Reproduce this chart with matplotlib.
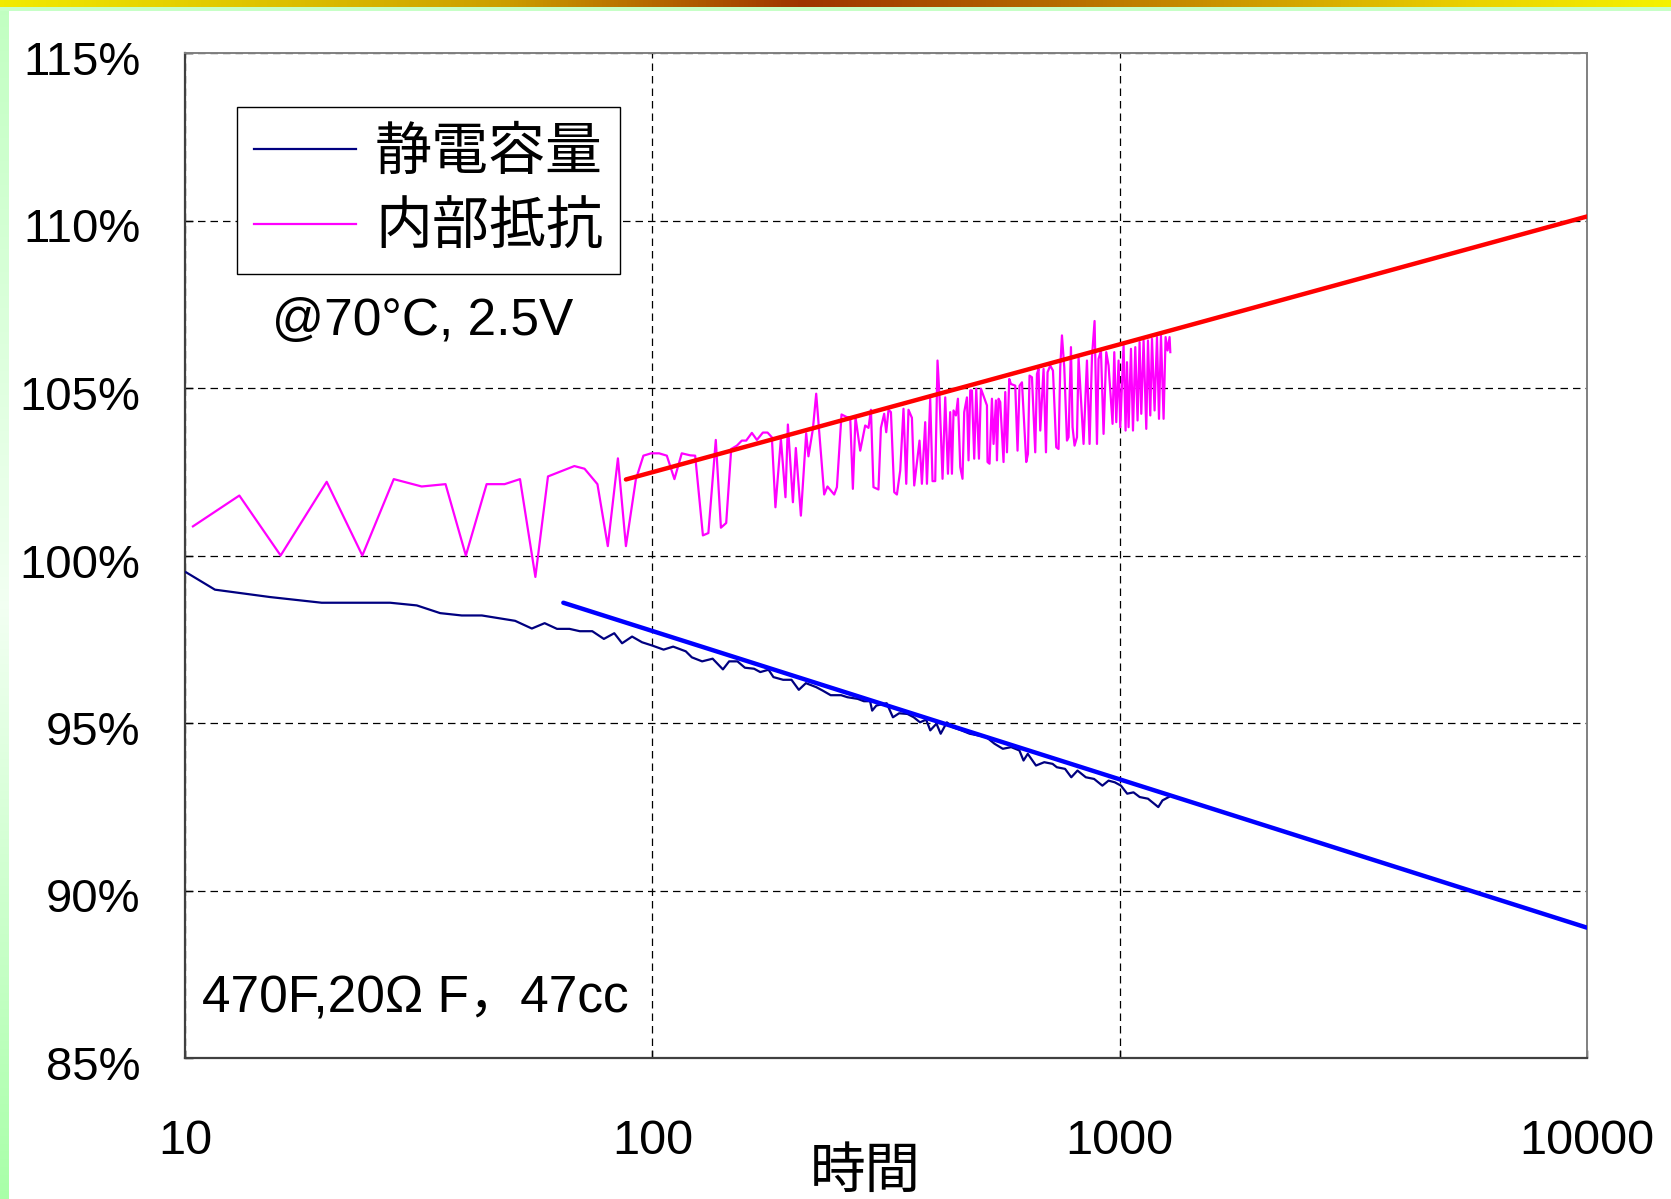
import numpy as np
import matplotlib
matplotlib.use('Agg')
import matplotlib.pyplot as plt
import matplotlib.transforms as mtransforms
from matplotlib.patches import Rectangle
from matplotlib.font_manager import FontProperties

# 静電容量 (capacitance), % of initial
cap_t = [10.05, 11.59, 15.2, 19.61, 27.47, 31.33, 35.15, 39.1, 43.17, 50.86,
         55.23, 58.82, 62.52, 66.49, 69.95, 74.39, 78.76, 82.9, 86.15, 90.5,
         95.06, 100.05, 105.7, 110.8, 117.9, 121.5, 127.8, 134.6, 141.6, 146.0,
         152.1, 157.8, 165.1, 170.2, 177.3, 181.6, 190.5, 198.5, 205.8, 213.1,
         224.2, 231.3, 240.8, 253.5, 261.4, 275.1, 283.6, 292.4, 295.4, 301.5,
         317.3, 327.2, 337.3, 351.5, 362.6, 373.9, 385.4, 393.3, 405.5, 414.0,
         426.8, 440.1, 458.5, 477.5, 497.4, 518.2, 539.8, 562.3, 585.8, 610.2,
         622.7, 635.8, 662.1, 689.7, 718.6, 733.6, 764.2, 787.9, 812.4, 846.3,
         881.6, 918.4, 946.7, 976.1, 1006.5, 1037.8, 1070.5, 1103.6, 1149.7, 1185.4,
         1209.5, 1234.9, 1273.4]
cap_v = [99.50, 98.98, 98.76, 98.59, 98.59, 98.51, 98.28, 98.21, 98.21, 98.05,
         97.82, 97.98, 97.81, 97.81, 97.74, 97.74, 97.51, 97.68, 97.38, 97.58,
         97.41, 97.31, 97.19, 97.28, 97.14, 96.96, 96.84, 96.92, 96.60, 96.84,
         96.84, 96.65, 96.62, 96.52, 96.59, 96.37, 96.29, 96.29, 95.99, 96.19,
         96.07, 95.97, 95.83, 95.83, 95.77, 95.72, 95.65, 95.65, 95.37, 95.52,
         95.59, 95.17, 95.29, 95.27, 95.17, 95.02, 95.10, 94.78, 94.98, 94.68,
         95.02, 94.87, 94.78, 94.68, 94.63, 94.58, 94.38, 94.23, 94.28, 94.18,
         93.88, 94.08, 93.73, 93.83, 93.78, 93.68, 93.63, 93.38, 93.58, 93.38,
         93.33, 93.13, 93.28, 93.23, 93.13, 92.89, 92.93, 92.79, 92.74, 92.59,
         92.49, 92.69, 92.79]

# 内部抵抗 (internal resistance), % of initial
res_t = [10.4, 13.07, 16.02, 20.1, 23.96, 27.97, 32.1, 36.1, 39.9, 44.2,
         48.3, 52.1, 56.2, 59.8, 68.1, 71.6, 76.3, 80.3, 84.4, 87.8,
         92.2, 95.7, 99.4, 103.4, 107.4, 111.5,
         115.6, 120.5, 123.5, 128.3, 131.8, 136.7, 140.2, 143.9, 147.5, 151.7,
         155.4, 158.8, 163.3, 167.4, 172.4, 176.4, 180.2, 183.4, 188.4, 192.7,
         195.0, 199.9, 202.8, 207.9, 213.4, 215.8, 220.6, 224.2, 233.2, 237.0,
         245.0, 248.3, 254.0, 260.8, 265.1, 268.6, 272.1, 278.5, 285.4, 290.1,
         293.6, 297.3, 304.7, 308.4, 313.4, 316.6, 320.2, 324.0, 329.3, 333.7,
         339.2,
         344.7, 349.4, 353.3, 359.3, 363.4, 373.0, 377.4, 383.6, 386.9, 393.2,
         397.7, 403.0, 407.6, 411.7, 417.8, 423.4, 429.1, 433.9, 437.6, 441.1,
         446.3, 450.7, 455.9, 461.0, 464.9, 471.2, 474.9, 478.9, 482.9, 488.4,
         493.3, 499.9, 504.8, 520.0, 521.5, 526.7, 532.9, 537.2, 543.5, 546.3,
         550.6, 555.2, 564.3, 569.1, 573.9, 580.4, 585.3, 597.8, 604.6, 610.6,
         617.9, 631.1, 636.4, 641.4, 649.1, 659.7, 665.3, 670.5, 676.2, 687.3,
         695.5, 701.0, 710.3, 719.9, 731.6, 740.0, 746.2, 752.5, 761.1, 771.3,
         777.4, 786.6, 792.9, 800.7, 810.3, 816.6,
         837.0, 851.1, 862.2, 872.4, 883.7, 894.2, 901.2, 911.9, 923.7, 936.1,
         946.8, 965.6, 973.8, 983.4, 994.6, 1002.9, 1019.4, 1029.5, 1036.7, 1044.9,
         1057.3, 1067.8, 1080.0, 1092.2, 1103.1, 1112.4, 1125.0, 1140.1, 1149.7, 1162.8,
         1172.6, 1187.7, 1201.8, 1213.8, 1225.7, 1241.6, 1253.9, 1266.3, 1278.8, 1283.3]
res_v = [100.87, 101.79, 100.0, 102.2, 100.0, 102.28, 102.06, 102.13, 100.0, 102.13,
         102.13, 102.28, 99.36, 102.36, 102.67, 102.59, 102.13, 100.28, 102.9, 100.28,
         102.27, 102.98, 103.05, 103.05, 102.98, 102.28,
         103.05, 102.99, 102.98, 100.60, 100.67, 103.45, 100.83, 100.97, 103.18, 103.28,
         103.43, 103.43, 103.66, 103.45, 103.67, 103.67, 103.53, 101.44, 103.48, 101.74,
         103.91, 101.59, 103.21, 101.19, 103.65, 102.96, 103.78, 104.83, 101.82, 102.06,
         101.82, 102.04, 104.21, 104.13, 104.13, 101.99, 104.13, 103.13, 103.88, 103.81,
         104.35, 102.04, 101.97, 103.81, 104.23, 103.68, 104.35, 104.28, 101.89, 101.82,
         102.54,
         104.38, 102.14, 104.35, 104.11, 102.09, 103.43, 102.14, 103.98, 102.14, 104.68,
         102.22, 102.22, 105.82, 104.72, 102.29, 104.72, 102.44, 104.28, 102.44, 104.33,
         104.18, 104.68, 102.64, 102.29, 104.28, 104.72, 102.84, 104.93, 104.93, 102.89,
         104.98, 102.89, 104.98, 104.48, 102.79, 102.74, 104.68, 103.33, 104.63, 102.84,
         104.68, 104.58, 102.79, 104.88, 103.08, 105.27, 105.12, 105.07, 103.13, 105.07,
         105.17, 102.79, 103.03, 105.37, 105.32, 103.08, 105.42, 105.57, 103.73, 105.57,
         103.08, 105.47, 105.67, 105.52, 103.23, 103.18, 105.62, 106.57, 105.62, 103.43,
         103.53, 106.22, 103.83, 103.28, 103.53, 105.92,
         103.33, 105.82, 103.33, 105.92, 107.00, 103.33, 105.87, 106.12, 103.63, 106.07,
         105.67, 103.93, 106.07, 103.98, 105.82, 103.83, 106.27, 103.73, 105.77, 103.83,
         106.17, 103.73, 106.22, 104.03, 106.37, 104.23, 106.42, 103.78, 106.42, 104.18,
         106.47, 104.33, 106.52, 104.08, 106.57, 104.08, 106.52, 106.12, 106.52, 106.07]

# trend lines (end points)
res_fit_t = [87.8, 10000]
res_fit_v = [102.27, 110.12]
cap_fit_t = [64.5, 10000]
cap_fit_v = [98.59, 88.89]

x_ticks = [10, 100, 1000, 10000]
x_labels = ['10', '100', '1000', '10000']
y_ticks = [85, 90, 95, 100, 105, 110, 115]
y_labels = ['85%', '90%', '95%', '100%', '105%', '110%', '115%']

W, H = 1671, 1199
fig = plt.figure(figsize=(W / 100, H / 100), dpi=100)
fig.patch.set_facecolor('white')

# slide frame: gradient bar on top, green strip on the left
bg = fig.add_axes([0, 0, 1, 1], zorder=0)
bg.set_xlim(0, W)
bg.set_ylim(H, 0)
bg.axis('off')
stops = [0.0, 0.3, 0.48, 0.62, 0.88, 1.0]
r = [0.95, 0.80, 0.62, 0.70, 0.92, 0.96]
g = [0.92, 0.62, 0.20, 0.40, 0.82, 0.95]
b = [0.00, 0.00, 0.00, 0.00, 0.00, 0.00]
xs = np.linspace(0, 1, 400)
top_img = np.stack([np.interp(xs, stops, r), np.interp(xs, stops, g),
                    np.interp(xs, stops, b)], axis=-1)[None, :, :]
bg.imshow(top_img, extent=[0, W, 7, 0], aspect='auto')
bg.add_patch(Rectangle((0, 7), W, 4, color='#c6ffc6', lw=0))
ys = np.linspace(0, 1, 300)
lg = np.interp(ys, [0, 0.5, 1], [0.76, 0.95, 0.66])
left_img = np.stack([lg, np.ones_like(lg), lg], axis=-1)[:, None, :]
bg.imshow(left_img, extent=[0, 9, H, 11], aspect='auto')

ax = fig.add_axes([185 / W, 1 - 1058 / H, 1402 / W, 1005 / H], zorder=1)
ax.set_facecolor('white')

ax.plot(cap_t, cap_v, color='#000080', lw=1.6, label='静電容量', zorder=3)
ax.plot(res_t, res_v, color='#ff00ff', lw=1.6, label='内部抵抗', zorder=3)
ax.plot(res_fit_t, res_fit_v, color='#ff0000', lw=3.2, solid_capstyle='round', zorder=4)
ax.plot(cap_fit_t, cap_fit_v, color='#0000ff', lw=3.2, solid_capstyle='round', zorder=4)

ax.set_xscale('log')
ax.set_xlim(10, 10000)
ax.set_ylim(85, 115)

num_font = ['Liberation Sans', 'DejaVu Sans']
ax.set_xticks(x_ticks)
ax.set_xticklabels(x_labels, family=num_font, fontsize=35)
ax.xaxis.set_minor_locator(plt.NullLocator())
ax.set_yticks(y_ticks)
ax.set_yticklabels(y_labels, family=num_font, fontsize=34)
ax.tick_params(axis='x', direction='in', length=6, width=1, pad=44)
ax.tick_params(axis='y', direction='in', length=6, width=1, pad=32)
shift = mtransforms.ScaledTranslation(0, -5 / 100, fig.dpi_scale_trans)
for lab in ax.get_yticklabels():
    lab.set_transform(lab.get_transform() + shift)

ax.grid(True, which='major', color='black', lw=0.9, linestyle=(0, (6, 4)))
ax.set_axisbelow(True)

for side in ['left', 'bottom']:
    ax.spines[side].set_color('#404040')
    ax.spines[side].set_linewidth(1.6)
for side in ['top', 'right']:
    ax.spines[side].set_color('#808080')
    ax.spines[side].set_linewidth(1.4)

xl_font = FontProperties(family=['Noto Sans CJK JP', 'DejaVu Sans'], size=40)
ax.set_xlabel('時間', fontproperties=xl_font)
ax.xaxis.set_label_coords((865 - 185) / 1402, (1058 - 1172) / 1005)
ax.xaxis.label.set_va('center')

leg_font = FontProperties(family=['Noto Sans CJK JP', 'DejaVu Sans'], size=41)
leg = ax.legend(loc='upper left', bbox_to_anchor=(0.0368, 0.9467), borderaxespad=0,
                fancybox=False, edgecolor='black', framealpha=1, prop=leg_font,
                handlelength=1.8, handletextpad=0.33, labelspacing=0.28, borderpad=0.3)
leg.get_frame().set_linewidth(1.0)
leg.set_zorder(5)

txt_font = ['Liberation Sans', 'Noto Sans CJK JP', 'DejaVu Sans']
ax.text((272 - 185) / 1402, (1058 - 322) / 1005, '@70°C, 2.5V', transform=ax.transAxes,
        family=txt_font, fontsize=37, va='center', ha='left', zorder=5)
ax.text((202 - 185) / 1402, (1058 - 999) / 1005, '470F,20Ω F，47cc', transform=ax.transAxes,
        family=txt_font, fontsize=37, va='center', ha='left', zorder=5)

fig.savefig('out.png', dpi=100)
